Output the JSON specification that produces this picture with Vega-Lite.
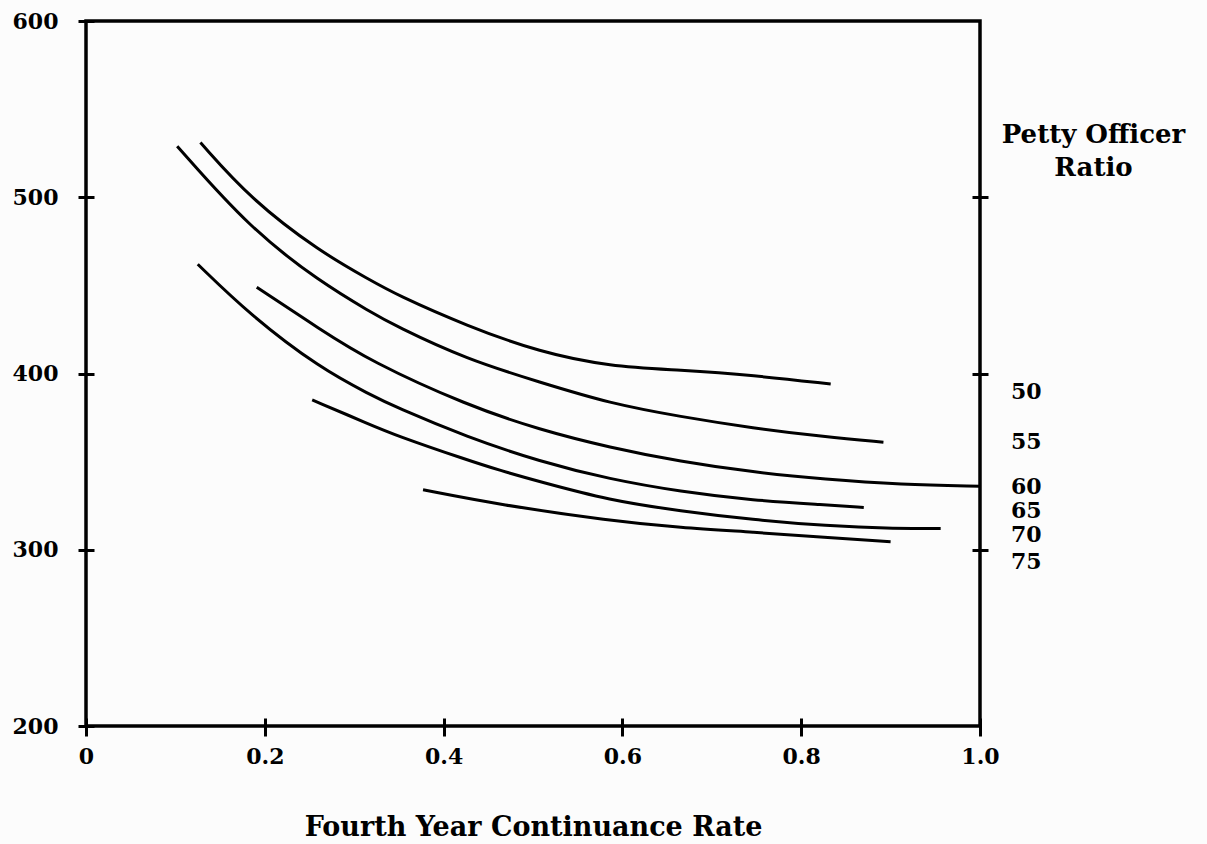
{
  "$schema": "https://vega.github.io/schema/vega-lite/v6.json",
  "width": 894,
  "height": 705,
  "autosize": {"type": "none"},
  "padding": {"left": 86, "top": 21, "right": 227, "bottom": 118},
  "background": "#fcfcfc",
  "config": {
    "view": {"stroke": "black", "strokeWidth": 3.5},
    "font": "DejaVu Serif",
    "axis": {"grid": false, "labelFont": "DejaVu Serif", "labelFontWeight": "bold", "labelFontSize": 22, "labelColor": "black", "titleFont": "DejaVu Serif", "titleFontWeight": "bold", "titleColor": "black", "tickColor": "black", "tickWidth": 3}
  },
  "datasets": {
    "curves": [
      {"ratio": "50", "x": 0.128, "v": 531},
      {"ratio": "50", "x": 0.184, "v": 499},
      {"ratio": "50", "x": 0.262, "v": 469},
      {"ratio": "50", "x": 0.318, "v": 453},
      {"ratio": "50", "x": 0.346, "v": 445},
      {"ratio": "50", "x": 0.426, "v": 427},
      {"ratio": "50", "x": 0.508, "v": 412},
      {"ratio": "50", "x": 0.586, "v": 404},
      {"ratio": "50", "x": 0.665, "v": 402},
      {"ratio": "50", "x": 0.746, "v": 399},
      {"ratio": "50", "x": 0.833, "v": 394},
      {"ratio": "55", "x": 0.102, "v": 529},
      {"ratio": "55", "x": 0.184, "v": 482},
      {"ratio": "55", "x": 0.262, "v": 452},
      {"ratio": "55", "x": 0.318, "v": 435},
      {"ratio": "55", "x": 0.346, "v": 427},
      {"ratio": "55", "x": 0.426, "v": 408},
      {"ratio": "55", "x": 0.508, "v": 395},
      {"ratio": "55", "x": 0.586, "v": 383},
      {"ratio": "55", "x": 0.665, "v": 375.5},
      {"ratio": "55", "x": 0.746, "v": 369},
      {"ratio": "55", "x": 0.827, "v": 364},
      {"ratio": "55", "x": 0.892, "v": 361},
      {"ratio": "60", "x": 0.191, "v": 449},
      {"ratio": "60", "x": 0.262, "v": 425},
      {"ratio": "60", "x": 0.318, "v": 407},
      {"ratio": "60", "x": 0.426, "v": 382},
      {"ratio": "60", "x": 0.508, "v": 368},
      {"ratio": "60", "x": 0.586, "v": 358},
      {"ratio": "60", "x": 0.665, "v": 350},
      {"ratio": "60", "x": 0.746, "v": 344},
      {"ratio": "60", "x": 0.827, "v": 340},
      {"ratio": "60", "x": 0.911, "v": 337},
      {"ratio": "60", "x": 1.0, "v": 336},
      {"ratio": "65", "x": 0.125, "v": 462},
      {"ratio": "65", "x": 0.184, "v": 433},
      {"ratio": "65", "x": 0.262, "v": 403},
      {"ratio": "65", "x": 0.318, "v": 388},
      {"ratio": "65", "x": 0.346, "v": 381},
      {"ratio": "65", "x": 0.426, "v": 364},
      {"ratio": "65", "x": 0.508, "v": 350},
      {"ratio": "65", "x": 0.586, "v": 340},
      {"ratio": "65", "x": 0.665, "v": 333},
      {"ratio": "65", "x": 0.746, "v": 328},
      {"ratio": "65", "x": 0.827, "v": 325.5},
      {"ratio": "65", "x": 0.870, "v": 324},
      {"ratio": "70", "x": 0.253, "v": 385},
      {"ratio": "70", "x": 0.318, "v": 371},
      {"ratio": "70", "x": 0.346, "v": 365},
      {"ratio": "70", "x": 0.426, "v": 351},
      {"ratio": "70", "x": 0.463, "v": 345},
      {"ratio": "70", "x": 0.505, "v": 339},
      {"ratio": "70", "x": 0.586, "v": 328},
      {"ratio": "70", "x": 0.665, "v": 322},
      {"ratio": "70", "x": 0.746, "v": 317},
      {"ratio": "70", "x": 0.827, "v": 313.5},
      {"ratio": "70", "x": 0.908, "v": 312},
      {"ratio": "70", "x": 0.956, "v": 312},
      {"ratio": "75", "x": 0.377, "v": 334},
      {"ratio": "75", "x": 0.463, "v": 325.5},
      {"ratio": "75", "x": 0.586, "v": 316.5},
      {"ratio": "75", "x": 0.665, "v": 312.5},
      {"ratio": "75", "x": 0.746, "v": 310},
      {"ratio": "75", "x": 0.827, "v": 307},
      {"ratio": "75", "x": 0.900, "v": 304.5}
    ],
    "labels": [
      {"label": "50", "x": 1.0, "v": 389.7},
      {"label": "55", "x": 1.0, "v": 361.3},
      {"label": "60", "x": 1.0, "v": 335.7},
      {"label": "65", "x": 1.0, "v": 322.1},
      {"label": "70", "x": 1.0, "v": 308.5},
      {"label": "75", "x": 1.0, "v": 293.2}
    ]
  },
  "layer": [
    {
      "data": {"name": "curves"},
      "mark": {"type": "line", "color": "black", "strokeWidth": 3, "interpolate": "basis"},
      "encoding": {
        "x": {
          "field": "x", "type": "quantitative",
          "scale": {"domain": [0, 1], "nice": false, "zero": false},
          "axis": {
            "orient": "bottom", "offset": -8, "tickSize": 18, "domain": false,
            "values": [0, 0.2, 0.4, 0.6, 0.8, 1],
            "labelExpr": "datum.value === 0 ? '0' : format(datum.value, '.1f')",
            "labelPadding": 10, "labelFlush": false, "labelOverlap": false,
            "title": "Fourth Year Continuance Rate", "titleFontSize": 27,
            "titleBaseline": "alphabetic", "titleY": 117, "titlePadding": 0
          }
        },
        "y": {
          "field": "v", "type": "quantitative",
          "scale": {"domain": [200, 600], "nice": false, "zero": false},
          "axis": {
            "orient": "left", "offset": -8, "tickSize": 16, "domain": false,
            "values": [200, 300, 400, 500, 600],
            "labelPadding": 20, "labelFlush": false, "labelOverlap": false,
            "title": null
          }
        },
        "detail": {"field": "ratio"}
      }
    },
    {
      "data": {"name": "labels"},
      "mark": {"type": "text", "align": "left", "baseline": "middle", "dx": 31, "font": "DejaVu Serif", "fontWeight": "bold", "fontSize": 22, "color": "black"},
      "encoding": {
        "x": {"field": "x", "type": "quantitative", "axis": null},
        "y": {
          "field": "v", "type": "quantitative",
          "axis": {
            "orient": "right", "offset": -8, "tickSize": 16, "domain": false,
            "values": [300, 400, 500], "labels": false,
            "title": ["Petty Officer", "Ratio"], "titleAngle": 0, "titleFontSize": 26,
            "titleAlign": "center", "titleBaseline": "alphabetic",
            "titleX": 121, "titleY": 121, "titleLineHeight": 33
          }
        },
        "text": {"field": "label"}
      }
    }
  ],
  "resolve": {"axis": {"x": "independent", "y": "independent"}}
}
